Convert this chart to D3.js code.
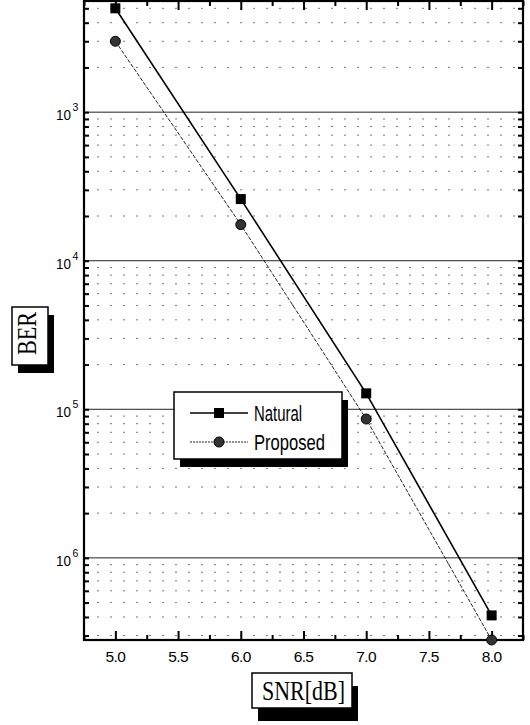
<!DOCTYPE html>
<html>
<head>
<meta charset="utf-8">
<script src="https://cdn.jsdelivr.net/npm/d3@7"></script>
<style>
  html, body { margin: 0; padding: 0; background: #fff; }
  svg { display: block; }
</style>
</head>
<body>
<svg id="chart" width="530" height="725"></svg>
<script>
// SNR sweep points and measured bit error rates
const snr = [5.0, 6.0, 7.0, 8.0];
const berNatural = [5.0e-3, 2.6e-4, 1.28e-5, 4.1e-7];
const berProposed = [3.0e-3, 1.75e-4, 8.6e-6, 2.8e-7];

const seriesNames = ["Natural", "Proposed"];

const xTickValues = [5.0, 5.5, 6.0, 6.5, 7.0, 7.5, 8.0];
const xTickLabels = ["5.0", "5.5", "6.0", "6.5", "7.0", "7.5", "8.0"];
const yDecades = [1e-3, 1e-4, 1e-5, 1e-6];
const yDecadeBase = ["10", "10", "10", "10"];
const yDecadeExp = ["3", "4", "5", "6"];

const xTitle = "SNR[dB]";
const yTitle = "BER";

const svg = d3.select("#chart");
const plot = { left: 84, right: 523, top: 1, bottom: 640 };

const x = d3.scaleLinear().domain([4.75, 8.25]).range([plot.left, plot.right]);
const y = d3.scaleLog().domain([2.8e-7, 5.6e-3]).range([plot.bottom, plot.top]);

// minor levels 2..9 x 10^k inside the domain
const minorLevels = [];
for (let k = -7; k <= -3; k++) {
  for (let m = 2; m <= 9; m++) {
    const v = m * Math.pow(10, k);
    if (v > y.domain()[0] && v < y.domain()[1]) minorLevels.push(v);
  }
}

// dotted minor gridlines
svg.append("g").selectAll("line").data(minorLevels).join("line")
  .attr("x1", plot.left).attr("x2", plot.right)
  .attr("y1", d => y(d)).attr("y2", d => y(d))
  .attr("stroke", "#777").attr("stroke-width", 1)
  .attr("stroke-dasharray", "2,11");

// solid decade gridlines
svg.append("g").selectAll("line").data(yDecades).join("line")
  .attr("x1", plot.left).attr("x2", plot.right)
  .attr("y1", d => y(d)).attr("y2", d => y(d))
  .attr("stroke", "#222").attr("stroke-width", 1);

// axes with inward ticks on all four sides
const yTicksAll = minorLevels.concat(yDecades);
const leftAxis = d3.axisLeft(y).tickValues(yTicksAll).tickSizeInner(-5).tickSizeOuter(0).tickFormat("");
const rightAxis = d3.axisRight(y).tickValues(yTicksAll).tickSizeInner(-5).tickSizeOuter(0).tickFormat("");
const xMinor = d3.range(4.75, 8.26, 0.25).filter(v => xTickValues.every(t => Math.abs(t - v) > 1e-6));
const bottomMajor = d3.axisBottom(x).tickValues(xTickValues).tickSizeInner(-9).tickSizeOuter(0).tickFormat("");
const bottomMinor = d3.axisBottom(x).tickValues(xMinor).tickSizeInner(-5).tickSizeOuter(0).tickFormat("");
const topMajor = d3.axisTop(x).tickValues(xTickValues).tickSizeInner(-9).tickSizeOuter(0).tickFormat("");
const topMinor = d3.axisTop(x).tickValues(xMinor).tickSizeInner(-5).tickSizeOuter(0).tickFormat("");

function styleAxis(g) {
  g.select(".domain").remove();
  g.selectAll(".tick line").attr("stroke", "#000").attr("stroke-width", 2);
}
svg.append("g").attr("transform", `translate(${plot.left},0)`).call(leftAxis).call(styleAxis);
svg.append("g").attr("transform", `translate(${plot.right},0)`).call(rightAxis).call(styleAxis);
svg.append("g").attr("transform", `translate(0,${plot.bottom})`).call(bottomMajor).call(styleAxis);
svg.append("g").attr("transform", `translate(0,${plot.bottom})`).call(bottomMinor).call(styleAxis);
svg.append("g").attr("transform", `translate(0,${plot.top})`).call(topMajor).call(styleAxis);
svg.append("g").attr("transform", `translate(0,${plot.top})`).call(topMinor).call(styleAxis);

// frame
svg.append("rect")
  .attr("x", plot.left).attr("y", plot.top)
  .attr("width", plot.right - plot.left).attr("height", plot.bottom - plot.top)
  .attr("fill", "none").attr("stroke", "#000").attr("stroke-width", 2.2);

// x tick labels
svg.append("g").selectAll("text").data(xTickValues).join("text")
  .attr("x", d => x(d)).attr("y", 662)
  .attr("text-anchor", "middle")
  .attr("font-family", "Liberation Sans, Arial, sans-serif")
  .attr("font-size", 15.5).attr("letter-spacing", -0.6)
  .text((d, i) => xTickLabels[i]);

// y decade labels: base with raised exponent
const yLab = svg.append("g").selectAll("g").data(yDecades).join("g")
  .attr("transform", d => `translate(71,${y(d)})`);
yLab.append("text")
  .attr("x", 0).attr("y", 8)
  .attr("text-anchor", "end")
  .attr("font-family", "Liberation Sans, Arial, sans-serif")
  .attr("font-size", 15.5).attr("textLength", 15).attr("lengthAdjust", "spacingAndGlyphs")
  .text((d, i) => yDecadeBase[i]);
yLab.append("text")
  .attr("x", 1.5).attr("y", -1)
  .attr("font-family", "Liberation Sans, Arial, sans-serif")
  .attr("font-size", 10.5)
  .text((d, i) => yDecadeExp[i]);

// series lines
const line = d3.line().x((d, i) => x(snr[i])).y(d => y(d));
svg.append("path").datum(berNatural)
  .attr("d", line).attr("fill", "none")
  .attr("stroke", "#000").attr("stroke-width", 1.6);
svg.append("path").datum(berProposed)
  .attr("d", line).attr("fill", "none")
  .attr("stroke", "#222").attr("stroke-width", 1)
  .attr("stroke-dasharray", "4,1.5");

// markers
const sq = 10;
svg.append("g").selectAll("rect").data(berNatural).join("rect")
  .attr("x", (d, i) => x(snr[i]) - sq / 2).attr("y", d => y(d) - sq / 2)
  .attr("width", sq).attr("height", sq).attr("fill", "#000");
svg.append("g").selectAll("circle").data(berProposed).join("circle")
  .attr("cx", (d, i) => x(snr[i])).attr("cy", d => y(d)).attr("r", 5)
  .attr("fill", "#333").attr("stroke", "#000").attr("stroke-width", 1);

// boxed label with drop shadow
function shadowBox(bx, by, bw, bh, dx, dy) {
  const g = svg.append("g");
  g.append("rect").attr("x", bx + dx).attr("y", by + dy)
    .attr("width", bw).attr("height", bh).attr("fill", "#000");
  g.append("rect").attr("x", bx).attr("y", by)
    .attr("width", bw).attr("height", bh)
    .attr("fill", "#fff").attr("stroke", "#000").attr("stroke-width", 1.5);
  return g;
}

// legend
const lg = shadowBox(174, 392, 168, 67, 6, 8);
const legendRows = [413, 442];
lg.append("line").attr("x1", 190).attr("x2", 248)
  .attr("y1", legendRows[0]).attr("y2", legendRows[0])
  .attr("stroke", "#000").attr("stroke-width", 1.6);
lg.append("rect").attr("x", 219 - sq / 2).attr("y", legendRows[0] - sq / 2)
  .attr("width", sq).attr("height", sq).attr("fill", "#000");
lg.append("line").attr("x1", 190).attr("x2", 248)
  .attr("y1", legendRows[1]).attr("y2", legendRows[1])
  .attr("stroke", "#222").attr("stroke-width", 1)
  .attr("stroke-dasharray", "2,1");
lg.append("circle").attr("cx", 219).attr("cy", legendRows[1]).attr("r", 5)
  .attr("fill", "#333").attr("stroke", "#000").attr("stroke-width", 1);
const legendWidths = [48, 71];
seriesNames.forEach((name, i) => {
  lg.append("text")
    .attr("x", 254).attr("y", legendRows[i] + 8)
    .attr("font-family", "Liberation Sans, Arial, sans-serif")
    .attr("font-size", 22)
    .attr("textLength", legendWidths[i]).attr("lengthAdjust", "spacingAndGlyphs")
    .text(name);
});

// x axis title
const xt = shadowBox(252, 673, 100, 35, 6, 13);
xt.append("text")
  .attr("x", 262).attr("y", 700)
  .attr("font-family", "Liberation Serif, Times New Roman, serif")
  .attr("font-size", 28)
  .attr("textLength", 83).attr("lengthAdjust", "spacingAndGlyphs")
  .text(xTitle);

// y axis title
const yt = shadowBox(12, 307, 36, 58, 6, 8);
yt.append("text")
  .attr("transform", "translate(36,355) rotate(-90)")
  .attr("font-family", "Liberation Serif, Times New Roman, serif")
  .attr("font-size", 28)
  .attr("textLength", 43).attr("lengthAdjust", "spacingAndGlyphs")
  .text(yTitle);
</script>
</body>
</html>
